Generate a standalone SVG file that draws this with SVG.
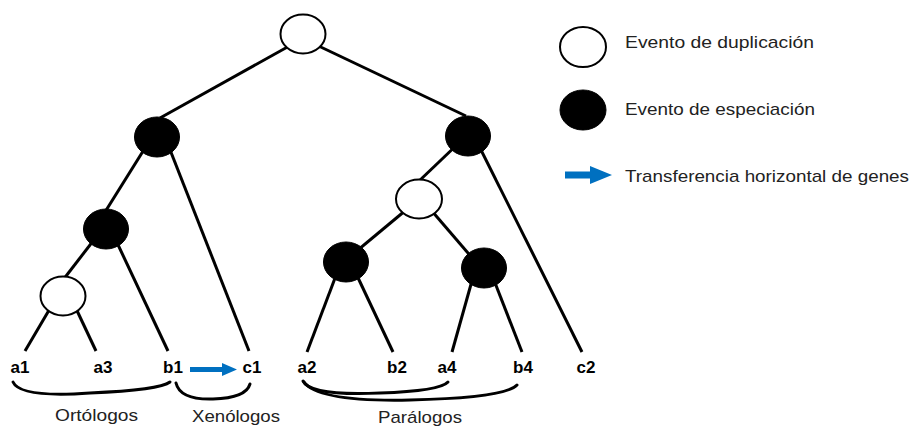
<svg xmlns="http://www.w3.org/2000/svg" width="912" height="428" viewBox="0 0 912 428">
<defs>
<style>
.edge{stroke:#000;stroke-width:3;fill:none;stroke-linecap:butt}
.brace{stroke:#000;stroke-width:3;fill:none;stroke-linecap:round}
.dup{fill:#fff;stroke:#000;stroke-width:2}
.spe{fill:#000;stroke:#000;stroke-width:1}
.leaf{font-family:"Liberation Sans",Arial,sans-serif;font-weight:bold;font-size:17px;fill:#000;text-anchor:middle}
.lbl{font-family:"Liberation Sans",Arial,sans-serif;font-size:17px;fill:#222}
.hgt{fill:#0070C0}
</style>
</defs>
<rect width="912" height="428" fill="#fff"/>
<g id="connectors">
<line class="edge" x1="300" y1="40" x2="160" y2="118"/>
<line class="edge" x1="306" y1="40" x2="466" y2="116"/>
<line class="edge" x1="150" y1="140" x2="105" y2="212"/>
<line class="edge" x1="165" y1="137" x2="249" y2="351"/>
<line class="edge" x1="100" y1="232" x2="63" y2="280"/>
<line class="edge" x1="112" y1="232" x2="168" y2="351"/>
<line class="edge" x1="55" y1="300" x2="25" y2="351"/>
<line class="edge" x1="72" y1="300" x2="96" y2="351"/>
<line class="edge" x1="462" y1="140" x2="418" y2="182"/>
<line class="edge" x1="475" y1="138" x2="582" y2="352"/>
<line class="edge" x1="412" y1="205" x2="352" y2="255"/>
<line class="edge" x1="425" y1="203" x2="474" y2="260"/>
<line class="edge" x1="340" y1="265" x2="307" y2="352"/>
<line class="edge" x1="352" y1="265" x2="393" y2="352"/>
<line class="edge" x1="475" y1="270" x2="452" y2="352"/>
<line class="edge" x1="490" y1="270" x2="522" y2="352"/>
<path class="hgt" d="M190 367 H222 V363 L237 369.5 L222 376 V372 H190 Z"/>
</g>
<g id="node-root"><ellipse class="dup" cx="303" cy="34" rx="22.5" ry="19.5"/></g>
<g id="node-L1"><ellipse class="spe" cx="157" cy="137" rx="22.5" ry="20"/></g>
<g id="node-L2"><ellipse class="spe" cx="106" cy="229" rx="22.5" ry="20"/></g>
<g id="node-L3"><ellipse class="dup" cx="63" cy="296" rx="22.5" ry="19.5"/></g>
<g id="node-R1"><ellipse class="spe" cx="468" cy="136" rx="22.5" ry="20"/></g>
<g id="node-R2"><ellipse class="dup" cx="419" cy="199" rx="23" ry="19.5"/></g>
<g id="node-R3"><ellipse class="spe" cx="346" cy="262" rx="22.5" ry="20"/></g>
<g id="node-R4"><ellipse class="spe" cx="484" cy="268" rx="22.5" ry="20"/></g>
<g id="leaves">
<text class="leaf" x="20" y="373">a1</text>
<text class="leaf" x="103" y="373">a3</text>
<text class="leaf" x="173" y="373">b1</text>
<text class="leaf" x="252" y="373">c1</text>
<text class="leaf" x="307" y="373">a2</text>
<text class="leaf" x="397" y="373">b2</text>
<text class="leaf" x="447" y="373">a4</text>
<text class="leaf" x="523" y="373">b4</text>
<text class="leaf" x="586" y="373">c2</text>
</g>
<g id="groups">
<path class="brace" d="M13 382 Q20 398 90 393 Q160 390 170 382"/>
<path class="brace" d="M176 383 Q180 400 213 399 Q246 398 250 384"/>
<path class="brace" d="M303 381 Q310 396 380 393 Q440 391 448 382"/>
<path class="brace" d="M304 382 Q318 402 410 400 Q505 398 517 385"/>
<text class="lbl" x="55" y="421" textLength="83" lengthAdjust="spacingAndGlyphs">Ortólogos</text>
<text class="lbl" x="192" y="422" textLength="88" lengthAdjust="spacingAndGlyphs">Xenólogos</text>
<text class="lbl" x="378" y="423" textLength="84" lengthAdjust="spacingAndGlyphs">Parálogos</text>
</g>
<g id="legend">
<ellipse class="dup" cx="583" cy="47" rx="23" ry="20"/>
<text class="lbl" x="625" y="48" textLength="189" lengthAdjust="spacingAndGlyphs">Evento de duplicación</text>
<ellipse class="spe" cx="583" cy="110" rx="23" ry="20"/>
<text class="lbl" x="625" y="115" textLength="190" lengthAdjust="spacingAndGlyphs">Evento de especiación</text>
<path class="hgt" d="M565 171.5 H590 V166 L612 175 L590 184 V178.5 H565 Z"/>
<text class="lbl" x="625" y="182" textLength="284" lengthAdjust="spacingAndGlyphs">Transferencia horizontal de genes</text>
</g>
</svg>
